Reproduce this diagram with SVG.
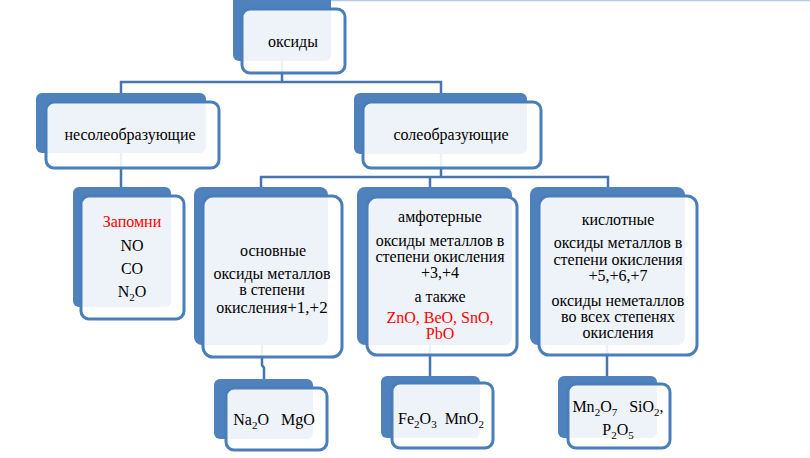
<svg xmlns="http://www.w3.org/2000/svg" width="810" height="458" viewBox="0 0 810 458">
<style>
.bk{fill:#4F81BD}
.fr{fill:#FFFFFF;fill-opacity:0.9;stroke:#4A7EBB;stroke-width:3}
.cn{fill:none;stroke:#4675B0;stroke-width:2.5}
text{font-family:'Liberation Serif','Times New Roman',serif;font-size:16px;fill:#000;text-anchor:middle;white-space:pre}
.red{fill:#FF0000}
.sub{font-size:11px}
</style>
<rect x="0" y="0" width="810" height="458" fill="#FFFFFF"/>
<line x1="331" y1="0.5" x2="810" y2="0.5" stroke="#B4CBE8" stroke-width="1.5"/>
<g id="connectors">
<path class="cn" d="M282,60 V82"/>
<path class="cn" d="M121,93 V82 H441 V93"/>
<path class="cn" d="M441,154 V177"/>
<path class="cn" d="M261,187 V177 H608 V187"/>
<path class="cn" d="M430,177 V187"/>
<path class="cn" d="M121,153 V187"/>
<path class="cn" d="M262,345 V365 L264,368 V379"/>
<path class="cn" d="M430,345 V376"/>
<path class="cn" d="M607,345 V376"/>
</g>
<g id="n-oksidy">
<rect class="bk" x="233" y="-6" width="98" height="67" rx="6"/>
<rect class="fr" x="242" y="9" width="103" height="64" rx="8"/>
<text x="293" y="47" font-family="Liberation Serif, serif">оксиды</text>
</g>
<g id="n-nesoleobr">
<rect class="bk" x="36" y="93" width="170" height="60" rx="6"/>
<rect class="fr" x="46" y="102" width="173" height="66" rx="8"/>
<text x="130" y="140" font-family="Liberation Serif, serif">несолеобразующие</text>
</g>
<g id="n-soleobr">
<rect class="bk" x="354" y="93" width="173" height="61" rx="6"/>
<rect class="fr" x="363" y="102" width="178" height="66" rx="8"/>
<text x="451" y="140" font-family="Liberation Serif, serif">солеобразующие</text>
</g>
<g id="n-zapomni" font-family="Liberation Serif, serif">
<rect class="bk" x="73" y="187" width="98" height="120" rx="6"/>
<rect class="fr" x="81" y="196" width="103" height="123" rx="8"/>
<text x="132" y="227" class="red">Запомни</text>
<text x="132" y="251">NO</text>
<text x="132" y="274">CO</text>
<text x="132" y="297">N<tspan class="sub" dy="4">2</tspan><tspan dy="-4">O</tspan></text>
</g>
<g id="n-osnovnye" font-family="Liberation Serif, serif">
<rect class="bk" x="194" y="187" width="134" height="158" rx="8"/>
<rect class="fr" x="203" y="196" width="139" height="161" rx="10"/>
<text x="273" y="256">основные</text>
<text x="272" y="279">оксиды металлов</text>
<text x="272" y="295">в степени</text>
<text x="272" y="313">окисления<tspan font-size="17">+1,+2</tspan></text>
</g>
<g id="n-amfoternye" font-family="Liberation Serif, serif">
<rect class="bk" x="357" y="187" width="155" height="158" rx="8"/>
<rect class="fr" x="367" y="197" width="150" height="158" rx="10"/>
<text x="440" y="222">амфотерные</text>
<text x="440" y="246">оксиды металлов в</text>
<text x="440" y="262">степени окисления</text>
<text x="440" y="278">+3,+4</text>
<text x="440" y="302">а также</text>
<text x="440" y="323" class="red">ZnO, BeO, SnO,</text>
<text x="440" y="339" class="red">PbO</text>
</g>
<g id="n-kislotnye" font-family="Liberation Serif, serif">
<rect class="bk" x="530" y="187" width="155" height="158" rx="8"/>
<rect class="fr" x="539" y="196" width="158" height="159" rx="10"/>
<text x="618" y="225">кислотные</text>
<text x="618" y="248">оксиды металлов в</text>
<text x="618" y="265">степени окисления</text>
<text x="618" y="281">+5,+6,+7</text>
<text x="618" y="306">оксиды неметаллов</text>
<text x="618" y="322">во всех степенях</text>
<text x="618" y="338">окисления</text>
</g>
<g id="n-na2o" font-family="Liberation Serif, serif">
<rect class="bk" x="214" y="379" width="99" height="60" rx="6"/>
<rect class="fr" x="226" y="388" width="101" height="62" rx="8"/>
<text x="274" y="425">Na<tspan class="sub" dy="4">2</tspan><tspan dy="-4">O&#160;&#160;&#160;MgO</tspan></text>
</g>
<g id="n-fe2o3" font-family="Liberation Serif, serif">
<rect class="bk" x="381" y="376" width="99" height="62" rx="6"/>
<rect class="fr" x="392" y="383" width="101" height="65" rx="8"/>
<text x="441" y="424">Fe<tspan class="sub" dy="4">2</tspan><tspan dy="-4">O</tspan><tspan class="sub" dy="4">3</tspan><tspan dy="-4">&#160;&#160;MnO</tspan><tspan class="sub" dy="4">2</tspan></text>
</g>
<g id="n-mn2o7" font-family="Liberation Serif, serif">
<rect class="bk" x="558" y="376" width="99" height="62" rx="6"/>
<rect class="fr" x="568" y="384" width="102" height="64" rx="8"/>
<text x="618" y="412">Mn<tspan class="sub" dy="4">2</tspan><tspan dy="-4">O</tspan><tspan class="sub" dy="4">7</tspan><tspan dy="-4">&#160;&#160;&#160;SiO</tspan><tspan class="sub" dy="4">2</tspan><tspan dy="-4">,</tspan></text>
<text x="618" y="435">P<tspan class="sub" dy="4">2</tspan><tspan dy="-4">O</tspan><tspan class="sub" dy="4">5</tspan></text>
</g>
</svg>
